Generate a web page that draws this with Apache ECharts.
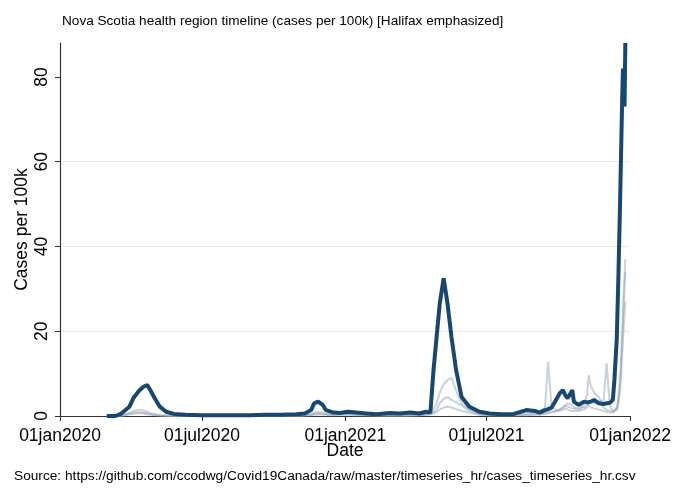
<!DOCTYPE html>
<html>
<head>
<meta charset="utf-8">
<script src="https://cdn.jsdelivr.net/npm/echarts@6/dist/echarts.min.js"></script>
<style>
  html, body { margin: 0; padding: 0; background: #fff; }
  #container { width: 680px; height: 495px; }
</style>
</head>
<body>
<div id="container"></div>
<script>
// dates shared by all health zones
var dates = [
  '2020-03-01','2020-03-12','2020-03-19','2020-03-25','2020-03-30','2020-04-05','2020-04-12','2020-04-17','2020-04-22','2020-04-27',
  '2020-05-02','2020-05-08','2020-05-16','2020-05-26','2020-06-10','2020-06-30','2020-07-20','2020-08-10','2020-08-31','2020-09-20',
  '2020-10-10','2020-10-30','2020-11-10','2020-11-18','2020-11-22','2020-11-27','2020-12-03','2020-12-07','2020-12-15','2020-12-25',
  '2021-01-04','2021-01-15','2021-01-28','2021-02-10','2021-02-27','2021-03-12','2021-03-25','2021-04-06','2021-04-14','2021-04-20',
  '2021-04-24','2021-04-28','2021-05-02','2021-05-07','2021-05-12','2021-05-17','2021-05-23','2021-05-30','2021-06-09','2021-06-22',
  '2021-07-05','2021-07-20','2021-08-05','2021-08-21','2021-09-01','2021-09-07','2021-09-14','2021-09-18','2021-09-22','2021-09-27',
  '2021-10-03','2021-10-07','2021-10-10','2021-10-13','2021-10-19','2021-10-21','2021-10-27','2021-11-03','2021-11-07','2021-11-09',
  '2021-11-12','2021-11-16','2021-11-22','2021-11-28','2021-12-02','2021-12-06','2021-12-10','2021-12-12','2021-12-15','2021-12-17',
  '2021-12-19','2021-12-20','2021-12-21','2021-12-22','2021-12-23','2021-12-24','2021-12-25','2021-12-26'
];

// Halifax (emphasized)
var halifax = [
  0, 0, 0.5, 1.4, 2.2, 4.5, 6.1, 6.9, 7.3, 5.7,
  4.0, 2.2, 1.0, 0.5, 0.3, 0.2, 0.2, 0.2, 0.2, 0.3,
  0.3, 0.4, 0.6, 1.4, 3.0, 3.4, 2.6, 1.4, 0.9, 0.7,
  1.0, 0.8, 0.6, 0.4, 0.7, 0.6, 0.8, 0.6, 1.0, 0.8,
  10.8, 18.7, 26.5, 32.5, 26.5, 18.7, 10.8, 4.5, 2.2, 1.0,
  0.6, 0.4, 0.5, 1.4, 1.2, 0.8, 1.4, 1.6, 1.9, 3.4,
  5.4, 6.1, 4.9, 4.2, 6.1, 3.4, 2.6, 3.4, 3.2, 3.0,
  3.4, 3.8, 3.0, 2.8, 3.0, 3.1, 3.8, 8.5, 18, 32,
  48, 57, 66, 75, 82, 77, 73, 88
];

// other zones (background)
var eastern = [
  0, 0, 0.2, 0.5, 0.8, 1.2, 1.5, 1.3, 1.0, 0.6,
  0.4, 0.2, 0.1, 0.05, 0, 0, 0, 0, 0, 0.05,
  0.1, 0.1, 0.2, 0.5, 0.8, 1.0, 0.8, 0.5, 0.3, 0.4,
  0.5, 0.3, 0.2, 0.1, 0.2, 0.1, 0.2, 0.3, 0.5, 0.8,
  1.5, 3.0, 5.5, 7.5, 8.5, 9.0, 6.0, 3.0, 1.5, 0.5,
  0.3, 0.2, 0.3, 0.6, 0.8, 1.0, 2.0, 12.8, 3.0, 1.5,
  1.2, 1.5, 1.8, 1.5, 1.2, 1.0, 1.2, 1.5, 2.0, 2.5,
  2.0, 1.8, 1.5, 1.2, 1.0, 0.8, 0.8, 1.0, 1.5, 3.0,
  6, 8, 11, 15, 18, 21, 24, 27
];

var northern = [
  0, 0, 0.1, 0.3, 0.5, 0.8, 0.9, 0.8, 0.6, 0.4,
  0.3, 0.2, 0.1, 0, 0, 0, 0, 0, 0, 0,
  0, 0.1, 0.2, 0.3, 0.5, 0.6, 0.5, 0.4, 0.3, 0.5,
  0.6, 0.4, 0.3, 0.2, 0.1, 0.1, 0.2, 0.2, 0.3, 0.5,
  0.8, 1.5, 3.0, 4.0, 4.5, 3.8, 3.2, 2.5, 1.2, 0.4,
  0.2, 0.2, 0.2, 0.3, 0.4, 0.5, 0.6, 0.8, 1.0, 1.2,
  1.5, 2.0, 2.5, 2.2, 1.8, 1.5, 1.5, 2.5, 5.0, 9.6,
  7.0, 5.5, 4.5, 2.0, 1.5, 1.2, 1.0, 1.2, 2.0, 4.0,
  8, 11, 15, 19, 23, 27, 31, 34
];

var western = [
  0, 0, 0, 0.2, 0.4, 0.6, 0.7, 0.6, 0.4, 0.3,
  0.2, 0.1, 0, 0, 0, 0, 0, 0, 0, 0,
  0, 0, 0.1, 0.2, 0.3, 0.4, 0.3, 0.3, 0.2, 0.3,
  0.3, 0.2, 0.2, 0.1, 0.1, 0.1, 0.1, 0.2, 0.3, 0.4,
  0.6, 1.0, 1.5, 2.0, 2.2, 2.0, 1.6, 1.2, 0.8, 0.3,
  0.2, 0.1, 0.1, 0.2, 0.3, 0.3, 0.5, 0.6, 0.8, 1.0,
  1.5, 2.0, 2.5, 3.0, 2.5, 2.0, 1.8, 2.0, 2.5, 3.0,
  3.5, 3.0, 3.5, 3.5, 12.4, 2.5, 1.2, 1.0, 1.5, 3.0,
  7, 10, 14, 19, 24, 29, 33, 37
];

var xTicks = ['2020-01-01', '2020-07-01', '2021-01-01', '2021-07-01', '2022-01-01'];
var yTicks = [0, 20, 40, 60, 80];
var months = ['jan','feb','mar','apr','may','jun','jul','aug','sep','oct','nov','dec'];

function toTime(s) {
  var p = s.split('-');
  return new Date(+p[0], +p[1] - 1, +p[2]).getTime();
}
function pairs(vals) {
  return dates.map(function (d, i) { return [toTime(d), vals[i]]; });
}

var font = 'Liberation Sans, Arial, sans-serif';
var grey = 'rgba(150,165,185,0.5)';

var myChart = echarts.init(document.getElementById('container'));
var option = {
  animation: false,
  backgroundColor: '#fff',
  title: [
    {
      text: 'Nova Scotia health region timeline (cases per 100k) [Halifax emphasized]',
      left: 62, top: 14, padding: 0,
      textStyle: { fontFamily: font, fontSize: 13.6, fontWeight: 'normal', color: '#000' }
    },
    {
      text: 'Source: https://github.com/ccodwg/Covid19Canada/raw/master/timeseries_hr/cases_timeseries_hr.csv',
      left: 14, top: 469, padding: 0,
      textStyle: { fontFamily: font, fontSize: 13.7, fontWeight: 'normal', color: '#000' }
    }
  ],
  grid: { left: 60, right: 50, top: 43, bottom: 79 },
  xAxis: {
    // timestamps on a value axis, labelled as Stata dates
    type: 'value',
    min: toTime(xTicks[0]),
    max: toTime(xTicks[xTicks.length - 1]),
    name: 'Date',
    nameLocation: 'middle',
    nameGap: 26,
    nameMoveOverlap: false,
    nameTextStyle: { fontFamily: font, fontSize: 17.5, color: '#000' },
    axisLine: { show: true, onZero: false, lineStyle: { color: '#333', width: 1.2 } },
    axisTick: { show: true, length: 5, customValues: xTicks.map(toTime), lineStyle: { color: '#333' } },
    axisLabel: {
      customValues: xTicks.map(toTime),
      fontFamily: font, fontSize: 17.5, color: '#000', margin: 11,
      formatter: function (v) {
        var d = new Date(v);
        return '01' + months[d.getMonth()] + d.getFullYear();
      }
    },
    splitLine: { show: false }
  },
  yAxis: {
    type: 'value',
    min: 0, max: 88, interval: 20,
    name: 'Cases per 100k',
    nameLocation: 'middle',
    nameGap: 29,
    nameMoveOverlap: false,
    nameTextStyle: { fontFamily: font, fontSize: 17.5, color: '#000' },
    axisLine: { show: true, lineStyle: { color: '#333', width: 1.2 } },
    axisTick: { show: true, length: 5, customValues: yTicks, lineStyle: { color: '#333' } },
    axisLabel: {
      customValues: yTicks,
      rotate: 90,
      fontFamily: font, fontSize: 17.5, color: '#000', margin: 9
    },
    splitLine: { show: true, showMinLine: false, showMaxLine: false, lineStyle: { color: '#e8e8e8', width: 1 } }
  },
  series: [
    { name: 'Eastern', type: 'line', data: pairs(eastern), showSymbol: false, lineStyle: { color: grey, width: 2 }, z: 2 },
    { name: 'Northern', type: 'line', data: pairs(northern), showSymbol: false, lineStyle: { color: grey, width: 2 }, z: 2 },
    { name: 'Western', type: 'line', data: pairs(western), showSymbol: false, lineStyle: { color: grey, width: 2 }, z: 2 },
    { name: 'Halifax', type: 'line', data: pairs(halifax), showSymbol: false, lineStyle: { color: '#1a476f', width: 4 }, z: 3 }
  ]
};
myChart.setOption(option);
</script>
</body>
</html>
